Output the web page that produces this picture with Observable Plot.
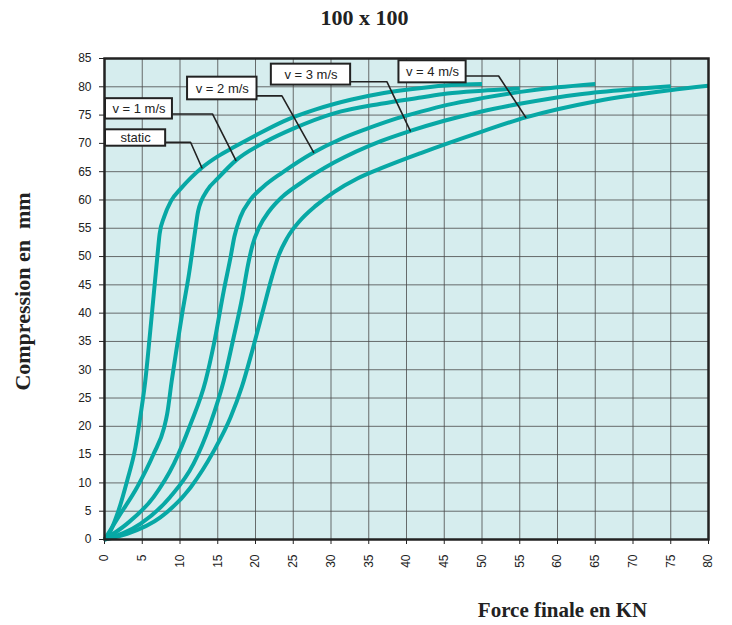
<!DOCTYPE html>
<html>
<head>
<meta charset="utf-8">
<script src="https://cdn.jsdelivr.net/npm/d3@7"></script>
<script src="https://cdn.jsdelivr.net/npm/@observablehq/plot@0.6"></script>
<style>
  html, body { margin: 0; padding: 0; background: #fff; }
  #chart { width: 732px; height: 625px; }
</style>
</head>
<body>
<div id="chart"></div>
<script>
// Force (kN) vs compression (mm) for a 100 x 100 buffer, static and at impact speeds
const seriesNames = ["static", "v = 1 m/s", "v = 2 m/s", "v = 3 m/s", "v = 4 m/s"];

const staticForce = [0, 0.6, 1.7, 3.0, 4.1, 4.8, 5.4, 6.0, 6.5, 7.0, 7.3, 7.9, 8.8, 10.1, 11.5, 12.9, 15.0, 17.1, 20.0, 23.7, 28.0, 32.6, 37.0, 42.0, 46.0, 50.0];
const staticComp  = [0, 1.0, 4.5, 10.4, 16.3, 22.2, 28.0, 36.0, 43.0, 50.0, 54.0, 57.0, 59.8, 62.0, 64.0, 65.7, 67.7, 69.3, 71.4, 73.9, 76.0, 77.7, 78.9, 79.8, 80.3, 80.5];

const v1Force = [0, 2.1, 4.3, 6.5, 7.9, 8.3, 8.9, 9.7, 10.3, 11.2, 12.0, 12.4, 13.6, 15.0, 17.4, 21.5, 25.0, 30.4, 36.6, 41.9, 45.4, 50.0, 55.0];
const v1Comp  = [0, 4.5, 9.2, 15.1, 19.8, 22.2, 28.0, 35.0, 40.0, 47.0, 54.5, 58.0, 61.7, 63.8, 67.0, 70.4, 72.6, 75.3, 77.0, 78.1, 78.8, 79.3, 79.7];

const v2Force = [0, 3.0, 6.5, 9.2, 11.4, 13.4, 14.5, 15.8, 16.7, 17.2, 18.0, 19.3, 21.0, 23.5, 27.7, 31.0, 34.8, 38.0, 41.9, 45.4, 50.0, 55.1, 60.0, 65.0];
const v2Comp  = [0, 2.8, 7.5, 13.4, 20.4, 28.1, 34.6, 44.0, 49.9, 53.5, 57.0, 60.0, 62.3, 64.8, 68.4, 70.6, 72.6, 74.1, 75.6, 76.8, 78.0, 79.1, 79.9, 80.5];

const v3Force = [0, 4.8, 8.7, 11.8, 14.0, 15.8, 17.1, 18.2, 19.0, 19.6, 20.5, 21.8, 23.5, 26.0, 30.4, 36.6, 40.5, 45.0, 49.8, 55.0, 63.0, 70.0, 75.0];
const v3Comp  = [0, 2.8, 7.5, 13.4, 20.4, 28.1, 35.7, 42.5, 48.5, 52.0, 55.2, 58.0, 60.5, 63.0, 66.6, 70.4, 72.2, 74.0, 75.6, 77.0, 78.7, 79.6, 80.1];

const v4Force = [0, 3.0, 7.4, 11.4, 14.5, 16.7, 18.2, 19.6, 21.0, 22.2, 23.1, 24.2, 25.8, 28.0, 30.4, 33.5, 37.0, 41.9, 49.8, 55.8, 65.3, 74.9, 80.0];
const v4Comp  = [0, 1.0, 3.9, 9.2, 15.7, 21.6, 27.0, 33.5, 40.5, 46.5, 50.3, 53.3, 56.2, 59.0, 61.4, 63.8, 65.8, 68.3, 72.0, 74.6, 77.5, 79.4, 80.2];

const xTicks = d3.range(0, 81, 5);
const yTicks = d3.range(0, 86, 5);

// Callout boxes (data units) and the force at which each pointer meets its curve
const boxX1 = [0.13, 0.13, 11.0, 22.1, 39.0];
const boxX2 = [8.1, 9.0, 20.2, 32.6, 47.9];
const boxY1 = [69.5, 74.3, 77.7, 80.3, 80.7];
const boxY2 = [72.4, 77.9, 81.7, 84.0, 84.6];
const leaderY = [70.2, 75.2, 78.4, 80.9, 81.9];
const leaderElbowX = [11.4, 14.3, 23.5, 37.4, 52.2];
const leaderTipX = [12.9, 17.4, 27.7, 40.5, 55.8];

const forces = [staticForce, v1Force, v2Force, v3Force, v4Force];
const comps = [staticComp, v1Comp, v2Comp, v3Comp, v4Comp];

const curves = seriesNames.flatMap((name, i) =>
  forces[i].map((f, j) => ({series: name, force: f, comp: comps[i][j]})));

// compression at a given force (for the pointer tips)
function compAt(i, f) {
  const xs = forces[i], ys = comps[i];
  for (let j = 1; j < xs.length; j++) {
    if (f <= xs[j]) {
      const t = (f - xs[j - 1]) / (xs[j] - xs[j - 1]);
      return ys[j - 1] + t * (ys[j] - ys[j - 1]);
    }
  }
  return ys[ys.length - 1];
}

const boxes = seriesNames.map((name, i) => ({
  name, x1: boxX1[i], x2: boxX2[i], y1: boxY1[i], y2: boxY2[i]
}));

const leaders = seriesNames.flatMap((name, i) => [
  {series: name, x: boxX2[i], y: leaderY[i]},
  {series: name, x: leaderElbowX[i], y: leaderY[i]},
  {series: name, x: leaderTipX[i], y: compAt(i, leaderTipX[i])}
]);

const teal = "#07a8a5";
const ink = "#222";
const serif = "'Liberation Serif', 'DejaVu Serif', serif";

const chart = Plot.plot({
  width: 732,
  height: 625,
  marginLeft: 104,
  marginRight: 24,
  marginTop: 58,
  marginBottom: 86,
  style: {background: "white", fontFamily: "'Liberation Sans', Arial, sans-serif", fontSize: "12px", color: ink},
  x: {domain: [0, 80]},
  y: {domain: [0, 85]},
  marks: [
    Plot.frame({fill: "#d6edee", stroke: "none"}),
    Plot.gridX(xTicks, {stroke: "#4a4a4a", strokeOpacity: 0.8, strokeWidth: 1}),
    Plot.gridY(yTicks, {stroke: "#4a4a4a", strokeOpacity: 0.8, strokeWidth: 1}),
    Plot.axisY(yTicks, {tickSize: 5, tickPadding: 8, stroke: ink, fill: ink, fontSize: 12, label: null}),
    Plot.axisX(xTicks, {tickSize: 5, tickPadding: 10, tickRotate: -90, stroke: ink, fill: ink, fontSize: 12, label: null}),
    Plot.line(curves, {x: "force", y: "comp", z: "series", stroke: teal, strokeWidth: 4, curve: "monotone-x", strokeLinecap: "butt"}),
    Plot.line(leaders, {x: "x", y: "y", z: "series", stroke: ink, strokeWidth: 1.6}),
    Plot.rect(boxes, {x1: "x1", x2: "x2", y1: "y1", y2: "y2", fill: "white", stroke: ink, strokeWidth: 2}),
    Plot.text(boxes, {x: d => (d.x1 + d.x2) / 2, y: d => (d.y1 + d.y2) / 2, text: "name", fill: ink, fontSize: 13}),
    Plot.frame({stroke: ink, strokeWidth: 2.5}),
    Plot.text(["100 x 100"], {frameAnchor: "top", textAnchor: "middle", lineAnchor: "middle", dx: -42, dy: -41, fontFamily: serif, fontWeight: "bold", fontSize: 22, fill: ink}),
    Plot.text(["Force finale en KN"], {frameAnchor: "bottom", textAnchor: "middle", lineAnchor: "middle", dx: 156, dy: 71, fontFamily: serif, fontWeight: "bold", fontSize: 21, fill: ink}),
    Plot.text(["Compression en  mm"], {frameAnchor: "left", textAnchor: "middle", lineAnchor: "middle", dx: -82, dy: -7.5, rotate: -90, fontFamily: serif, fontWeight: "bold", fontSize: 22, fill: ink})
  ]
});

document.getElementById("chart").appendChild(chart);
</script>
</body>
</html>
